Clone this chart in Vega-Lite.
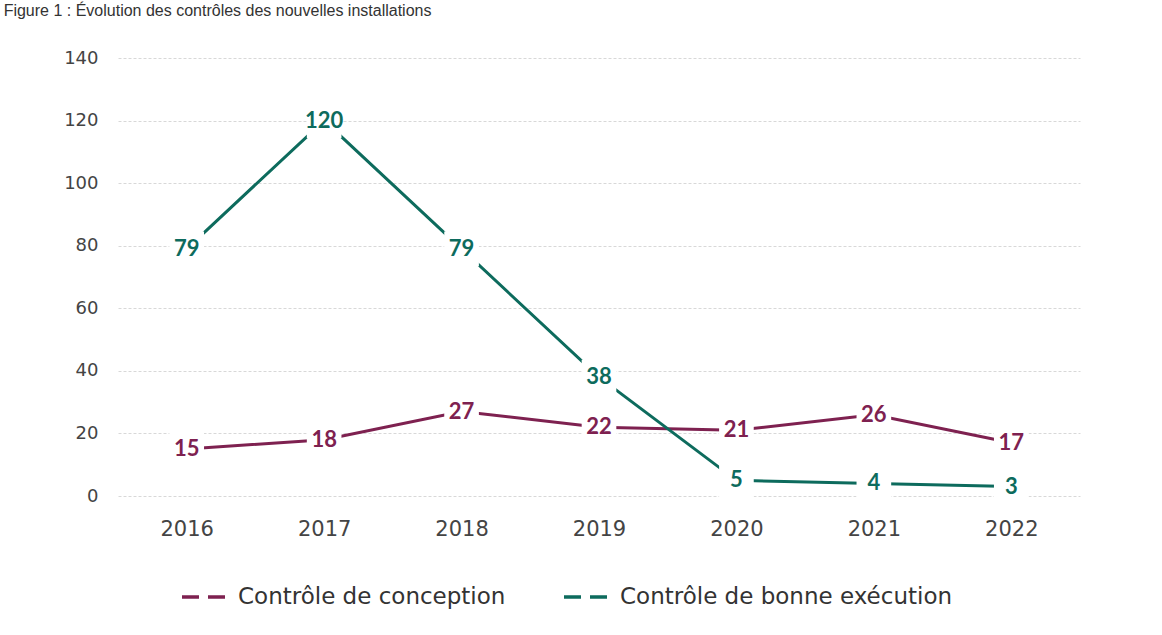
{
  "$schema": "https://vega.github.io/schema/vega-lite/v6.json",
  "width": 962,
  "height": 438,
  "autosize": {"type": "none"},
  "padding": {"left": 118, "top": 58, "right": 82, "bottom": 139},
  "background": "white",
  "config": {"view": {"stroke": null}},
  "title": {
    "text": "Figure 1 : Évolution des contrôles des nouvelles installations",
    "anchor": "start",
    "dx": -60,
    "offset": 30,
    "fontSize": 16,
    "font": "Liberation Sans",
    "fontWeight": "normal",
    "color": "#333333"
  },
  "data": {
    "values": [
      {"annee": "2016", "serie": "Contrôle de conception", "valeur": 15},
      {"annee": "2017", "serie": "Contrôle de conception", "valeur": 18},
      {"annee": "2018", "serie": "Contrôle de conception", "valeur": 27},
      {"annee": "2019", "serie": "Contrôle de conception", "valeur": 22},
      {"annee": "2020", "serie": "Contrôle de conception", "valeur": 21},
      {"annee": "2021", "serie": "Contrôle de conception", "valeur": 26},
      {"annee": "2022", "serie": "Contrôle de conception", "valeur": 17},
      {"annee": "2016", "serie": "Contrôle de bonne exécution", "valeur": 79},
      {"annee": "2017", "serie": "Contrôle de bonne exécution", "valeur": 120},
      {"annee": "2018", "serie": "Contrôle de bonne exécution", "valeur": 79},
      {"annee": "2019", "serie": "Contrôle de bonne exécution", "valeur": 38},
      {"annee": "2020", "serie": "Contrôle de bonne exécution", "valeur": 5},
      {"annee": "2021", "serie": "Contrôle de bonne exécution", "valeur": 4},
      {"annee": "2022", "serie": "Contrôle de bonne exécution", "valeur": 3}
    ]
  },
  "encoding": {
    "x": {
      "field": "annee",
      "type": "ordinal",
      "scale": {"type": "point", "padding": 0.5},
      "axis": {
        "title": null,
        "labelAngle": 0,
        "domain": false,
        "ticks": false,
        "labelPadding": 22,
        "labelFontSize": 21,
        "labelFont": "DejaVu Sans",
        "labelColor": "#444444"
      }
    },
    "y": {
      "field": "valeur",
      "type": "quantitative",
      "scale": {"domain": [0, 140]},
      "axis": {
        "title": null,
        "values": [0, 20, 40, 60, 80, 100, 120, 140],
        "domain": false,
        "ticks": false,
        "labelPadding": 20,
        "labelFontSize": 18,
        "labelFont": "DejaVu Sans",
        "labelColor": "#444444",
        "gridColor": "#d8d8d8",
        "gridDash": [3, 2],
        "gridWidth": 1
      }
    },
    "color": {
      "field": "serie",
      "type": "nominal",
      "scale": {
        "domain": ["Contrôle de conception", "Contrôle de bonne exécution"],
        "range": ["#7e2150", "#0d6b5d"]
      },
      "legend": {
        "title": null,
        "orient": "none",
        "direction": "horizontal",
        "legendX": 62,
        "legendY": 512,
        "symbolType": "stroke",
        "symbolSize": 2500,
        "symbolStrokeWidth": 3.5,
        "symbolDash": [17, 9],
        "labelFontSize": 23,
        "labelFont": "DejaVu Sans",
        "labelColor": "#333333",
        "labelOffset": 4,
        "labelLimit": 0,
        "columnPadding": 51
      }
    }
  },
  "layer": [
    {
      "mark": {"type": "line", "strokeWidth": 3}
    },
    {
      "mark": {"type": "square", "size": 1200, "filled": true, "opacity": 1},
      "encoding": {"color": {"value": "white"}}
    },
    {
      "mark": {"type": "text", "fontSize": 22, "fontWeight": "bold", "font": "Lato"},
      "encoding": {"text": {"field": "valeur", "type": "quantitative"}}
    }
  ]
}
